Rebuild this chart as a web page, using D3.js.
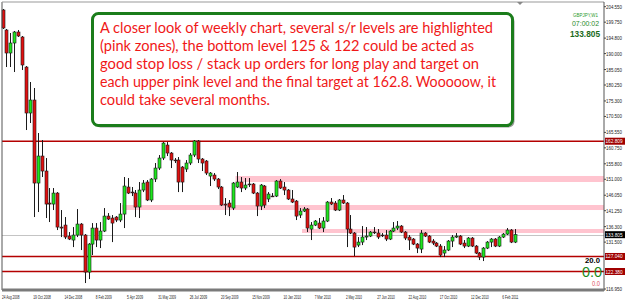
<!DOCTYPE html>
<html><head><meta charset="utf-8">
<script src="https://cdn.jsdelivr.net/npm/d3@7"></script>
<style>html,body{margin:0;padding:0;background:#fff;overflow:hidden}</style>
</head><body>
<svg id="c" width="625" height="303"></svg>
<script>
// ---------- data (GBPJPY, W1) ----------
const tickLabels = ["24 Aug 2008","19 Oct 2008","14 Dec 2008","8 Feb 2009","5 Apr 2009","31 May 2009","26 Jul 2009","20 Sep 2009","15 Nov 2009","10 Jan 2010","7 Mar 2010","2 May 2010","27 Jun 2010","22 Aug 2010","17 Oct 2010","12 Dec 2010","6 Feb 2011"];
const openP = [203.53,197.32,190.18,193.28,196.70,195.15,185.83,171.56,175.59,149.83,
158.21,153.56,143.62,143.31,146.72,136.17,136.79,133.38,132.14,133.69,
137.10,133.69,122.20,130.89,135.86,132.14,134.93,139.58,138.97,139.27,
138.35,140.20,148.59,147.03,146.72,142.38,147.66,150.14,144.56,151.07,
154.48,157.59,161.62,159.14,156.97,156.97,154.79,154.17,156.04,158.52,
162.87,157.28,156.66,152.00,152.31,151.07,148.59,143.31,143.62,142.07,
148.59,150.14,148.28,149.52,149.52,146.72,142.69,148.90,144.87,145.79,
145.79,150.45,148.59,147.66,144.87,144.24,139.90,141.14,141.76,135.55,
136.79,137.41,135.86,138.04,143.93,143.62,141.45,144.56,143.62,135.55,
134.31,130.58,131.51,133.07,133.38,134.62,134.31,133.69,133.69,132.45,
134.93,135.86,136.48,134.62,133.07,132.45,130.89,129.34,134.31,133.38,
131.83,131.20,130.27,128.10,129.04,131.83,133.07,133.38,131.20,130.27,
132.76,130.27,128.10,126.86,129.65,131.51,132.45,130.27,133.07,133.99,
135.24,131.51];
const highP = [203.84,197.63,196.39,197.01,197.32,195.46,186.14,181.18,179.32,165.35,
163.18,157.59,148.28,148.28,147.03,141.45,139.28,134.62,136.17,141.76,
137.41,134.00,131.20,137.41,137.41,137.72,142.07,140.51,139.90,139.58,
143.62,151.69,151.38,148.59,147.66,150.14,150.76,150.76,151.38,156.04,
158.52,162.55,162.55,159.45,157.59,157.90,155.10,156.97,159.14,163.18,
163.18,157.59,156.97,153.25,152.93,151.38,148.90,145.17,144.56,150.14,
153.25,151.69,151.38,151.38,149.83,147.03,149.52,149.21,147.03,146.72,
150.76,151.07,150.14,147.97,147.66,144.56,142.07,142.38,142.07,137.72,
138.35,138.97,139.27,144.24,145.17,144.24,144.87,146.10,143.93,139.90,
134.62,133.07,136.48,136.17,134.93,136.17,135.55,134.31,135.24,135.24,
137.72,138.04,136.79,134.93,133.69,132.76,131.20,135.24,134.62,133.69,
132.45,131.51,130.89,130.27,132.14,133.69,134.31,133.69,132.14,133.07,
133.07,130.58,128.41,129.96,131.83,132.76,132.76,133.38,134.31,135.86,
135.55,135.55];
const lowP = [197.63,185.83,185.83,184.28,195.15,184.90,166.28,168.46,139.28,140.83,
151.69,138.97,137.73,141.45,135.24,133.07,132.45,132.14,129.96,133.07,
129.04,118.80,120.03,127.48,129.96,129.65,134.62,138.35,131.51,137.72,
137.72,135.86,146.41,145.79,139.27,138.97,147.03,144.24,143.93,150.14,
153.87,156.97,158.21,154.48,156.04,147.03,147.03,153.25,155.41,157.90,
156.04,153.56,152.31,148.90,150.45,147.97,142.69,139.90,139.58,141.45,
148.28,147.03,147.66,148.59,146.41,139.58,141.45,142.07,143.93,145.48,
145.48,147.97,146.10,144.56,143.62,138.35,138.97,140.83,134.62,132.14,
136.48,135.55,134.62,137.72,143.00,141.14,141.14,143.31,129.96,134.00,
127.17,129.96,130.58,132.14,133.07,134.00,132.45,133.07,131.83,132.14,
134.62,135.24,134.31,132.14,129.04,130.58,128.10,128.10,133.07,131.20,
130.58,129.96,126.86,126.86,128.72,129.96,132.76,130.58,129.65,129.96,
129.96,127.79,125.93,125.62,129.34,129.96,129.96,129.96,132.76,133.69,
131.20,131.20];
const closeP = [197.94,190.18,193.28,196.70,195.46,186.46,171.56,175.59,149.83,158.21,
153.56,143.31,143.31,146.72,136.17,135.86,133.07,132.45,133.69,137.10,
133.69,122.20,130.89,135.86,132.14,134.93,139.58,138.65,137.41,138.35,
140.20,148.90,146.72,146.88,142.38,147.66,149.83,144.56,151.07,154.48,
157.59,162.24,159.14,156.97,156.81,150.14,150.14,156.04,158.52,162.87,
157.28,156.04,152.93,152.93,151.07,148.59,143.00,143.00,142.38,149.83,
150.14,148.28,149.21,149.37,146.72,142.69,149.21,143.00,146.41,145.64,
150.45,148.28,147.66,144.87,143.93,139.58,141.14,141.76,135.86,136.79,
138.04,135.86,138.04,143.93,143.31,141.45,144.56,143.62,135.55,134.31,
129.96,131.51,133.07,133.38,134.62,134.47,133.07,133.54,132.45,134.93,
135.86,136.48,134.62,132.76,132.14,130.89,129.65,134.31,133.38,131.51,
131.20,130.27,127.48,129.04,131.83,133.07,133.38,130.89,130.27,132.76,
130.27,128.10,126.86,129.65,131.51,132.45,130.27,133.07,133.99,135.24,
131.51,133.805];
const yTickLabels = ["204.550","199.750","194.800","190.000","185.050","180.250","175.300","170.500","165.550","160.750","155.800","151.000","146.050","141.250","136.300","131.500","116.950"];
const redLevels = [162.809, 127.040, 122.380];
const redLevelLabels = ["162.809","127.040","122.380"];
const currentPrice = 133.805;
const currentLabel = "133.805";
const zoneLow  = [150.15, 141.46, 134.33];
const zoneHigh = [152.02, 143.02, 135.57];
const zoneStart = [60, 31, 77];
const noteLines = [
 "A closer look of weekly chart, several s/r levels are highlighted",
 "(pink zones), the bottom level 125 & 122 could be acted as",
 "good stop loss / stack up orders for long play and target on",
 "each upper pink level and the final target at 162.8. Wooooow, it",
 "could take several months."];
const noteWidths = [393, 374, 379, 396, 170];
const infoSymbol = "GBPJPY,W1", infoTimer = "07:00:02", infoPrice = "133.805";
const indicatorTexts = ["20.0", "0.0", "0.0"];

// ---------- drawing ----------
const svg = d3.select("#c");
const plotL = 2, plotR = 604, plotT = 2, plotB = 290;
const x = d3.scaleLinear().domain([0, 131]).range([2.5, 514.6]);
const y = d3.scaleLinear().domain([116.95, 204.55]).range([289, 6.7]);
const smallFont = "Liberation Sans, Arial, sans-serif";

svg.append("rect").attr("width",625).attr("height",303).attr("fill","#fff");

// pink zones
svg.selectAll("rect.zone").data(zoneLow).join("rect").attr("class","zone")
  .attr("x",(d,i)=>x(zoneStart[i])-1.5)
  .attr("y",(d,i)=>y(zoneHigh[i]))
  .attr("width",(d,i)=>plotR - (x(zoneStart[i])-1.5))
  .attr("height",(d,i)=>y(zoneLow[i])-y(zoneHigh[i]))
  .attr("fill","#ffc4cf");

// current price line
svg.append("line").attr("x1",plotL).attr("x2",plotR)
  .attr("y1",Math.round(y(currentPrice))+0.5).attr("y2",Math.round(y(currentPrice))+0.5)
  .attr("stroke","#c4c4c4").attr("stroke-width",1);

// red levels
svg.selectAll("line.lvl").data(redLevels).join("line").attr("class","lvl")
  .attr("x1",plotL).attr("x2",plotR)
  .attr("y1",d=>y(d)).attr("y2",d=>y(d))
  .attr("stroke","#b40000").attr("stroke-width",1.4);

// candles
const idx = d3.range(openP.length);
const g = svg.append("g");
g.selectAll("line.wick").data(idx).join("line").attr("class","wick")
  .attr("x1",i=>Math.round(x(i))+0.5).attr("x2",i=>Math.round(x(i))+0.5)
  .attr("y1",i=>y(highP[i])).attr("y2",i=>y(lowP[i]))
  .attr("stroke","#1a1a1a").attr("stroke-width",1);
g.selectAll("rect.body").data(idx).join("rect").attr("class","body")
  .attr("x",i=>Math.round(x(i))-1)
  .attr("y",i=>y(Math.max(openP[i],closeP[i])))
  .attr("width",3)
  .attr("height",i=>Math.max(0.8, Math.abs(y(openP[i])-y(closeP[i]))))
  .attr("fill",i=>closeP[i]>=openP[i] ? "#1ee61e" : "#e01010")
  .attr("stroke","#1a1a1a").attr("stroke-width",0.6);

// frame
svg.append("line").attr("x1",plotL).attr("x2",plotL).attr("y1",plotT).attr("y2",plotB).attr("stroke","#555").attr("stroke-width",1);
svg.append("line").attr("x1",plotL).attr("x2",plotR).attr("y1",plotT).attr("y2",plotT).attr("stroke","#999").attr("stroke-width",1);
svg.append("line").attr("x1",plotR).attr("x2",plotR).attr("y1",plotT).attr("y2",plotB+1).attr("stroke","#555").attr("stroke-width",1);
svg.append("rect").attr("x",plotL).attr("y",288.5).attr("width",plotR-plotL).attr("height",3).attr("fill","#7a7a7a");
svg.append("path").attr("d","M517,2 L523,2 L520,5 Z").attr("fill","#888");

// right axis labels
const yAx = svg.append("g");
yTickLabels.forEach(t=>{
  const yy = y(+t);
  yAx.append("line").attr("x1",plotR).attr("x2",plotR+2).attr("y1",yy).attr("y2",yy).attr("stroke","#444");
  yAx.append("text").attr("x",606).attr("y",yy+2).text(t)
    .attr("font-family",smallFont).attr("font-size",5.3)
    .attr("textLength",16).attr("lengthAdjust","spacingAndGlyphs").attr("fill","#222");
});
function priceTag(v, label, bg){
  const yy = y(v);
  yAx.append("rect").attr("x",605).attr("y",yy-3.5).attr("width",20).attr("height",7).attr("fill",bg);
  yAx.append("text").attr("x",605.5).attr("y",yy+2).text(label)
    .attr("font-family",smallFont).attr("font-size",5.3)
    .attr("textLength",17).attr("lengthAdjust","spacingAndGlyphs").attr("fill","#fff");
}
redLevels.forEach((v,i)=>priceTag(v, redLevelLabels[i], "#a00000"));
priceTag(currentPrice, currentLabel, "#000");

// x axis labels
tickLabels.forEach((t,i)=>{
  svg.append("text").attr("x",x(i*8)-0.5).attr("y",299).text(t)
    .attr("font-family",smallFont).attr("font-size",5.5)
    .attr("textLength",t.length*1.6).attr("lengthAdjust","spacingAndGlyphs").attr("fill","#222");
});

// note box
svg.append("rect").attr("x",94.5).attr("y",15.5).attr("width",420).attr("height",112).attr("rx",6)
  .attr("fill","#9a9a9a");
svg.append("rect").attr("x",92.5).attr("y",13.5).attr("width",420).attr("height",112).attr("rx",6)
  .attr("fill","#fff").attr("stroke","#1b7d1b").attr("stroke-width",3);
noteLines.forEach((t,i)=>{
  svg.append("text").attr("x",100).attr("y",33+i*18).text(t)
    .attr("font-family","Lato, 'Open Sans', sans-serif").attr("font-size",15.5)
    .attr("textLength",noteWidths[i]).attr("lengthAdjust","spacingAndGlyphs")
    .attr("fill","#f01818");
});

// info top-right
svg.append("text").attr("x",598).attr("y",17).attr("text-anchor","end").text(infoSymbol)
  .attr("font-family",smallFont).attr("font-size",5)
  .attr("textLength",25).attr("lengthAdjust","spacingAndGlyphs").attr("fill","#2a9a2a");
svg.append("text").attr("x",599).attr("y",26).attr("text-anchor","end").text(infoTimer)
  .attr("font-family",smallFont).attr("font-size",7)
  .attr("textLength",27).attr("lengthAdjust","spacingAndGlyphs").attr("fill","#2a8a2a");
svg.append("text").attr("x",600).attr("y",37).attr("text-anchor","end").text(infoPrice)
  .attr("font-family",smallFont).attr("font-size",8.5).attr("font-weight","bold")
  .attr("textLength",30).attr("lengthAdjust","spacingAndGlyphs").attr("fill","#1a6a1a");

// indicator values bottom right
svg.append("text").attr("x",600).attr("y",262.5).attr("text-anchor","end").text(indicatorTexts[0])
  .attr("font-family",smallFont).attr("font-size",8).attr("font-weight","bold")
  .attr("textLength",15).attr("lengthAdjust","spacingAndGlyphs").attr("fill","#000");
svg.append("text").attr("x",602).attr("y",277).attr("text-anchor","end").text(indicatorTexts[1])
  .attr("font-family",smallFont).attr("font-size",15)
  .attr("textLength",20).attr("lengthAdjust","spacingAndGlyphs").attr("fill","#1a8a1a");
svg.append("text").attr("x",600).attr("y",286).attr("text-anchor","end").text(indicatorTexts[2])
  .attr("font-family",smallFont).attr("font-size",6.5)
  .attr("textLength",8).attr("lengthAdjust","spacingAndGlyphs").attr("fill","#e05060");
</script>
</body></html>
